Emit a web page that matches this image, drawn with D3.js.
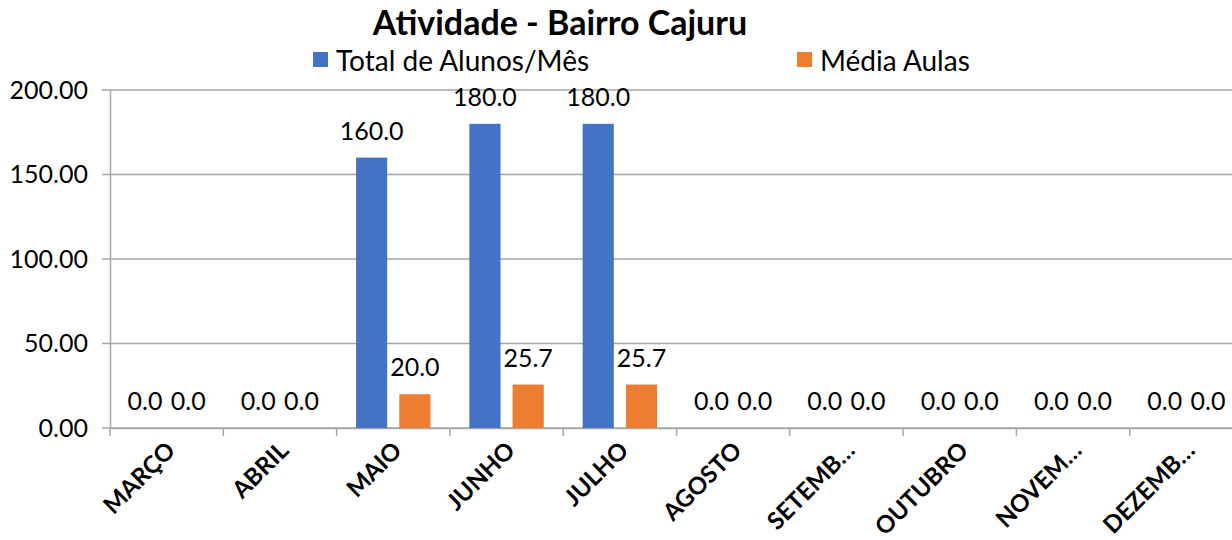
<!DOCTYPE html>
<html>
<head>
<meta charset="utf-8">
<script src="https://cdn.jsdelivr.net/npm/d3@7"></script>
<style>
  body { margin: 0; background: #fff; }
  svg { display: block; overflow: hidden; }
  text { font-family: Lato, "Open Sans", sans-serif; }
</style>
</head>
<body>
<script>
'use strict';

const months = ['MARÇO', 'ABRIL', 'MAIO', 'JUNHO', 'JULHO', 'AGOSTO', 'SETEMB…', 'OUTUBRO', 'NOVEM…', 'DEZEMB…']
const totalAlunos = [0, 0, 160, 180, 180, 0, 0, 0, 0, 0]
const mediaAulas = [0, 0, 20, 25.7, 25.7, 0, 0, 0, 0, 0]
const seriesNames = ['Total de Alunos/Mês', 'Média Aulas']
const yTicks = [0, 50, 100, 150, 200]

const m = {
  width: 1232,
  height: 540,
  left: 110,
  right: 1243,
  top: 90,
  bottom: 428
}
const colors = ['#4472C4', '#ED7D31']
const grid = '#A6A6A6'

const svg = d3.select('body')
  .append('svg')
  .attr('width', m.width)
  .attr('height', m.height)

const xScale = d3.scaleBand()
  .domain(months)
  .range([m.left, m.right])

const inner = d3.scaleBand()
  .domain([0, 1])
  .range([0, xScale.bandwidth()])
  .paddingInner(0.28)
  .paddingOuter(0.45)

const yScale = d3.scaleLinear()
  .domain([0, 200])
  .range([m.bottom, m.top])

// gridlines
svg.append('g')
  .selectAll('line')
  .data(yTicks)
  .enter().append('line')
    .attr('x1', m.left - 8)
    .attr('x2', m.right)
    .attr('y1', (d) => yScale(d))
    .attr('y2', (d) => yScale(d))
    .style('stroke', grid)
    .style('stroke-width', 1.5)

// y axis
const yAxis = d3.axisLeft(yScale)
  .tickValues(yTicks)
  .tickSize(0)
  .tickPadding(22)
  .tickFormat(d3.format('.2f'))
svg.append('g')
  .attr('transform', 'translate(' + m.left + ', 0)')
  .call(yAxis)
  .call((g) => g.select('.domain').style('stroke', grid).style('stroke-width', 1.5))
  .call((g) => g.selectAll('text')
    .style('font-family', 'Lato, sans-serif')
    .style('font-size', '25px')
    .style('fill', '#000'))

// x axis ticks at category boundaries
const xAxis = d3.axisBottom(xScale).tickSize(0).tickFormat('')
svg.append('g')
  .attr('transform', 'translate(0, ' + m.bottom + ')')
  .call(xAxis)
  .call((g) => g.select('.domain').style('stroke', grid).style('stroke-width', 1.5))

svg.append('g')
  .selectAll('line')
  .data(months)
  .enter().append('line')
    .attr('x1', (d) => xScale(d))
    .attr('x2', (d) => xScale(d))
    .attr('y1', m.bottom)
    .attr('y2', m.bottom + 8)
    .style('stroke', grid)
    .style('stroke-width', 1.5)

// month labels
svg.append('g')
  .selectAll('text')
  .data(months)
  .enter().append('text')
    .attr('transform', (d) => 'translate(' + (xScale(d) + xScale.bandwidth() / 2 + 10) + ', 452)rotate(-45)')
    .attr('text-anchor', 'end')
    .style('font-size', '24px')
    .style('font-weight', 'bold')
    .text((d) => d)

// bars
const series = [totalAlunos, mediaAulas]
series.forEach((values, s) => {
  const g = svg.append('g')
  g.selectAll('rect')
    .data(values)
    .enter().append('rect')
      .attr('x', (d, i) => xScale(months[i]) + inner(s))
      .attr('y', (d) => yScale(d))
      .attr('width', inner.bandwidth())
      .attr('height', (d) => m.bottom - yScale(d))
      .style('fill', colors[s])
  g.selectAll('text')
    .data(values)
    .enter().append('text')
      .attr('x', (d, i) => xScale(months[i]) + inner(s) + inner.bandwidth() / 2)
      .attr('y', (d) => yScale(d) - 18)
      .attr('text-anchor', 'middle')
      .style('font-size', '25px')
      .text((d) => d3.format('.1f')(d))
})

// title
svg.append('text')
  .attr('x', 560)
  .attr('y', 35)
  .attr('text-anchor', 'middle')
  .style('font-size', '34px')
  .style('font-weight', 'bold')
  .text('Atividade - Bairro Cajuru')

// legend
const legendX = [313, 797]
seriesNames.forEach((name, s) => {
  svg.append('rect')
    .attr('x', legendX[s])
    .attr('y', 52)
    .attr('width', 15)
    .attr('height', 15)
    .style('fill', colors[s])
  svg.append('text')
    .attr('x', legendX[s] + 23)
    .attr('y', 71)
    .style('font-size', '28px')
    .text(name)
})
</script>
</body>
</html>
